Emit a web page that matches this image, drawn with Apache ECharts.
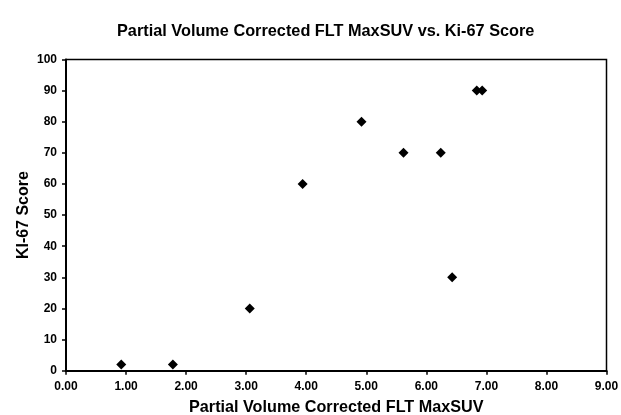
<!DOCTYPE html>
<html>
<head>
<meta charset="utf-8">
<script src="https://cdn.jsdelivr.net/npm/echarts@6/dist/echarts.min.js"></script>
<style>html,body{margin:0;padding:0;background:#fff}#c{width:621px;height:415px}</style>
</head>
<body>
<div id="c"></div>
<script>
var maxSUV = [0.92, 1.78, 3.06, 3.94, 4.92, 5.62, 6.24, 6.43, 6.84, 6.93];
var ki67   = [2, 2, 20, 60, 80, 70, 70, 30, 90, 90];
var xTicks = [0, 1, 2, 3, 4, 5, 6, 7, 8, 9];
var yTicks = [0, 10, 20, 30, 40, 50, 60, 70, 80, 90, 100];

var points = maxSUV.map(function (x, i) { return [x, ki67[i]]; });
var font = '"Liberation Sans", Arial, sans-serif';

var chart = echarts.init(document.getElementById('c'), null, {renderer: 'canvas'});
chart.setOption({
  animation: false,
  backgroundColor: '#fff',
  title: {
    text: 'Partial Volume Corrected FLT MaxSUV vs. Ki-67 Score',
    left: 112, top: 19,
    textStyle: {fontFamily: font, fontWeight: 'bold', fontSize: 16.3, color: '#000'}
  },
  grid: {left: 66, right: 14.5, top: 59.5, bottom: 44.3, containLabel: false, outerBoundsMode: 'none',
    show: true, borderColor: '#000', borderWidth: 1.5, backgroundColor: 'transparent'},
  xAxis: {
    type: 'value', min: xTicks[0], max: xTicks[xTicks.length - 1], interval: 1,
    name: 'Partial Volume Corrected FLT MaxSUV', nameLocation: 'middle', nameGap: 29,
    nameMoveOverlap: false,
    nameTextStyle: {fontFamily: font, fontWeight: 'bold', fontSize: 16.2, color: '#000'},
    axisLine: {lineStyle: {color: '#000', width: 2}},
    axisTick: {show: true, length: 4, lineStyle: {color: '#000', width: 1.5}},
    axisLabel: {fontFamily: font, fontWeight: 'bold', fontSize: 12, color: '#000', margin: 10,
      formatter: function (v) { return v.toFixed(2); }},
    splitLine: {show: false}
  },
  yAxis: {
    type: 'value', min: yTicks[0], max: yTicks[yTicks.length - 1], interval: 10,
    name: 'KI-67 Score', nameLocation: 'middle', nameGap: 34, nameRotate: 90,
    nameMoveOverlap: false,
    nameTextStyle: {fontFamily: font, fontWeight: 'bold', fontSize: 16, color: '#000'},
    axisLine: {lineStyle: {color: '#000', width: 2}},
    axisTick: {show: true, length: 4, lineStyle: {color: '#000', width: 1.5}},
    axisLabel: {fontFamily: font, fontWeight: 'bold', fontSize: 12, color: '#000', margin: 9},
    splitLine: {show: false}
  },
  series: [{
    type: 'scatter',
    data: points,
    symbol: 'diamond',
    symbolSize: 10,
    itemStyle: {color: '#000', opacity: 1}
  }]
});
</script>
</body>
</html>
